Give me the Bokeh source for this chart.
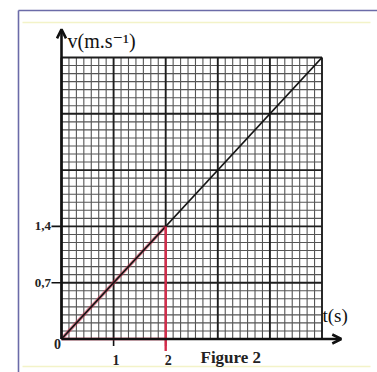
import numpy as np
from bokeh.plotting import figure
from bokeh.models import Range1d, Arrow, OpenHead
from bokeh.core.properties import value
from bokeh.embed import file_html
from bokeh.resources import INLINE

# ---------------- data ----------------
t_line = [0, 5]            # s
v_line = [0, 3.5]          # m/s
t_major = [0, 1, 2, 3, 4, 5]
v_major = [0, 0.7, 1.4, 2.1, 2.8, 3.5]
minor_per_major = 7
t_ticks = [1, 2]
t_tick_labels = ["1", "2"]
v_ticks = [0.7, 1.4]
v_tick_labels = ["0,7", "1,4"]
t_mark = [2]
v_mark = [1.4]
t_axis_end = 5.37
v_axis_end = 3.85
x_label = "t(s)"
y_label = "v(m.s\u207b\u00b9)"
origin_label = "0"
caption = "Figure 2"

# ---------------- layout ----------------
W, H = 377, 372
X0, X5 = 61.0, 321.5      # px of t=0 and t=5
Y0, YT = 338.5, 57.0      # px of v=0 and v=3.5
sx = (X5 - X0) / (t_major[-1] - t_major[0])
sy = (Y0 - YT) / (v_major[-1] - v_major[0])

def tx(px):
    return (px - X0) / sx

def vy(py):
    return (Y0 - py) / sy

p = figure(width=W, height=H, output_backend="svg", toolbar_location=None,
           x_axis_type=None, y_axis_type=None,
           x_range=Range1d(-X0 / sx, (W - X0) / sx),
           y_range=Range1d(-(H - Y0) / sy, Y0 / sy),
           min_border=0, outline_line_color=None)
p.background_fill_color = "white"
p.border_fill_color = "white"
p.grid.visible = False

serif = value("Liberation Serif, DejaVu Serif")

# page frame lines (scan border)
p.line(x=[tx(18), tx(380)], y=[vy(10), vy(10)], line_color="#6b6ba8", line_width=1.6)
p.line(x=[tx(18), tx(18)], y=[vy(10), vy(380)], line_color="#6b6ba8", line_width=1.6)
p.line(x=[tx(22), tx(370)], y=[vy(22), vy(22)], line_color="#f3f3c8", line_width=1.5)
p.line(x=[tx(22), tx(370)], y=[vy(366), vy(366)], line_color="#f3f3c8", line_width=1.5)

# minor grid
t_minor = np.concatenate([np.linspace(a, b, minor_per_major + 1)[1:-1]
                          for a, b in zip(t_major[:-1], t_major[1:])])
v_minor = np.concatenate([np.linspace(a, b, minor_per_major + 1)[1:-1]
                          for a, b in zip(v_major[:-1], v_major[1:])])
p.segment(x0=t_minor, y0=v_major[0], x1=t_minor, y1=v_major[-1],
          line_color="#555555", line_width=1.1)
p.segment(x0=t_major[0], y0=v_minor, x1=t_major[-1], y1=v_minor,
          line_color="#555555", line_width=1.1)
# major grid
p.segment(x0=t_major, y0=v_major[0], x1=t_major, y1=v_major[-1],
          line_color="#1e1e1e", line_width=1.9)
p.segment(x0=t_major[0], y0=v_major, x1=t_major[-1], y1=v_major,
          line_color="#1e1e1e", line_width=1.9)

# axes with arrows
p.add_layout(Arrow(end=OpenHead(size=9, line_width=2.6, line_color="#111111"),
                   x_start=0, y_start=0, x_end=0, y_end=v_axis_end,
                   line_width=2.6, line_color="#111111"))
p.add_layout(Arrow(end=OpenHead(size=9, line_width=2.6, line_color="#111111"),
                   x_start=0, y_start=0, x_end=t_axis_end, y_end=0,
                   line_width=2.6, line_color="#111111"))

# ticks
p.segment(x0=t_ticks, y0=0, x1=t_ticks, y1=-7 / sy,
          line_color="#111111", line_width=1.6)
p.segment(x0=-10 / sx, y0=v_ticks, x1=0, y1=v_ticks,
          line_color="#111111", line_width=1.6)

# red construction
red = "#d62b4b"
p.line(x=[0, t_mark[0]], y=[0, v_mark[0]], line_color=red, line_width=3.5, line_alpha=0.55)
# main line
p.line(x=t_line, y=v_line, line_color="#151515", line_width=1.8)
p.segment(x0=t_mark, y0=-12 / sy, x1=t_mark, y1=v_mark, line_color=red, line_width=2.4)
p.segment(x0=0, y0=0, x1=t_mark, y1=0, line_color=red, line_width=2.6)

# tick labels
p.text(x=[t + 2.5 / sx for t in t_ticks], y=[-20.5 / sy] * len(t_ticks), text=t_tick_labels,
       text_font=serif, text_font_style="bold", text_font_size="14px",
       text_align="center", text_baseline="middle", text_color="#222222")
p.text(x=[-10.5 / sx] * len(v_ticks), y=v_ticks, text=v_tick_labels,
       text_font=serif, text_font_style="bold", text_font_size="13px",
       text_align="right", text_baseline="middle", text_color="#222222")
p.text(x=[-4 / sx], y=[-5 / sy], text=[origin_label],
       text_font=serif, text_font_style="bold", text_font_size="14px",
       text_align="center", text_baseline="middle", text_color="#222222")

# axis titles and caption
p.text(x=[tx(67)], y=[vy(40)], text=[y_label], text_font=serif,
       text_font_size="20px", text_align="left", text_baseline="middle",
       text_color="#111111")
p.text(x=[tx(322)], y=[vy(315)], text=[x_label], text_font=serif,
       text_font_size="19px", text_align="left", text_baseline="middle",
       text_color="#111111")
p.text(x=[tx(200)], y=[vy(357)], text=[caption], text_font=serif,
       text_font_style="bold", text_font_size="17px", text_align="left",
       text_baseline="middle", text_color="#222222")

open("out.html", "w").write(file_html(p, INLINE))
